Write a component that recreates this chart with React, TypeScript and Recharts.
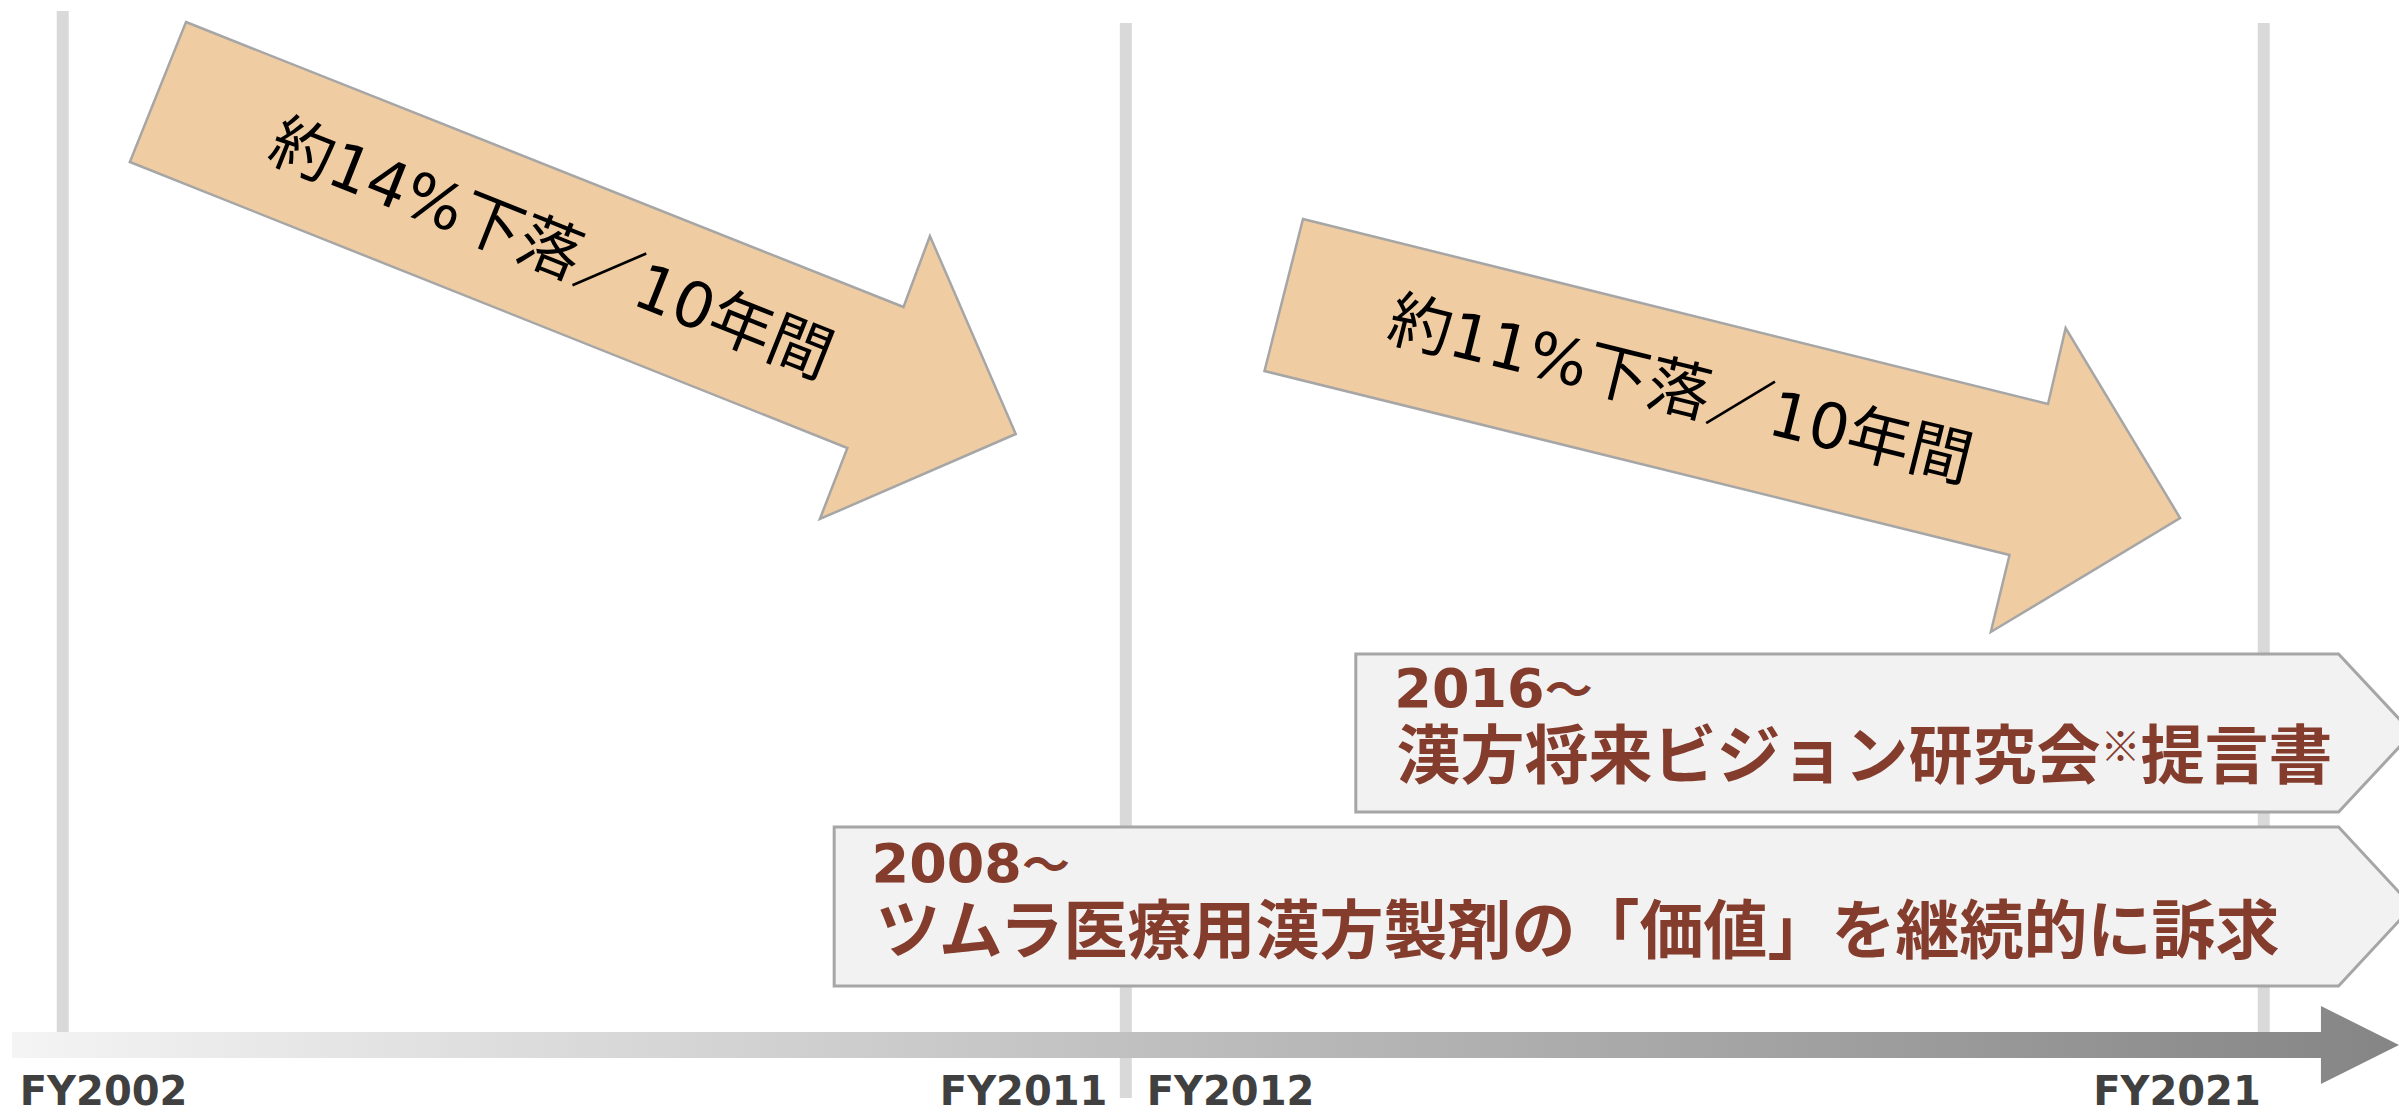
import { ScatterChart, Scatter, XAxis, YAxis } from "recharts"

// x = fiscal year position, y = layout level (0 bottom .. 111 top)

// grey vertical dividers of the timeline
const dividerYears = [2002.0, 2011.66, 2022.0]
const dividerTops = [109.9, 108.7, 108.7]
const dividerBottoms = [6.0, 1.2, 6.0]

// timeline arrow along the bottom
const timelineX = [2001.54, 2022.52, 2022.52, 2023.23, 2022.52, 2022.52, 2001.54]
const timelineY = [7.8, 7.8, 10.4, 6.5, 2.6, 5.2, 5.2]

const fyLabels = ["FY2002", "FY2011", "FY2012", "FY2021"]
const fyLabelX = [2001.61, 2009.97, 2011.85, 2020.45]
const fyLabelY = [0.5, 0.5, 0.5, 0.5]

// orange decline arrows
const declineLabels = ["約14%下落／10年間", "約11%下落／10年間"]
const declineLabelX = [2006.44, 2016.7]
const declineLabelY = [86.1, 72.0]
const decline1X = [2003.12, 2009.64, 2009.88, 2010.66, 2008.88, 2009.13, 2002.61]
const decline1Y = [108.8, 80.3, 87.4, 67.6, 59.1, 66.2, 94.8]
const decline2X = [2013.27, 2020.04, 2020.2, 2021.24, 2019.52, 2019.69, 2012.92]
const decline2Y = [89.1, 70.6, 78.2, 59.2, 47.8, 55.5, 73.9]

// grey banners
const bannerYears = ["2016～", "2008～"]
const bannerTitles = ["漢方将来ビジョン研究会※提言書", "ツムラ医療用漢方製剤の「価値」を継続的に訴求"]
const bannerYearX = [2014.1, 2009.35]
const bannerYearY = [40.3, 22.8]
const bannerTitleX = [2014.12, 2009.39]
const bannerTitleY = [33.2, 15.7]
const banner1X = [2013.75, 2022.68, 2023.35, 2022.68, 2013.75]
const banner1Y = [45.6, 45.6, 37.7, 29.8, 29.8]
const banner2X = [2009.01, 2022.68, 2023.35, 2022.68, 2009.01]
const banner2Y = [28.3, 28.3, 20.35, 12.4, 12.4]

const declineAngles = [21.7, 13.9]

const toPoints = (xs: number[], ys: number[]) => xs.map((x, i) => ({ x, y: ys[i] }))

const hidden = () => <g />

const ptsAttr = (points: any[]) => points.map((p) => `${p.x},${p.y}`).join(" ")

const polygon = (fill: string, stroke: string, strokeWidth: number) => (props: any) => (
  <polygon points={ptsAttr(props.points)} fill={fill} stroke={stroke} strokeWidth={strokeWidth} />
)

const timelineShape = (props: any) => (
  <g>
    <defs>
      <linearGradient id="timelineFill" x1="0" y1="0" x2="1" y2="0">
        <stop offset="0%" stopColor="#f4f4f4" />
        <stop offset="100%" stopColor="#858585" />
      </linearGradient>
    </defs>
    <polygon points={ptsAttr(props.points)} fill="url(#timelineFill)" />
  </g>
)

const fyTick = (props: any) => (
  <text x={props.cx} y={props.cy} fontFamily="'DejaVu Sans'" fontWeight="bold" fontSize={40} fill="#404040">
    {props.payload.label}
  </text>
)

const declineText = (props: any) => (
  <text
    x={props.cx}
    y={props.cy}
    transform={`rotate(${props.payload.angle} ${props.cx} ${props.cy})`}
    textAnchor="middle"
    dominantBaseline="central"
    fontFamily="'DejaVu Sans', 'Noto Sans CJK JP'"
    fontSize={63}
    fill="#000"
  >
    {props.payload.label}
  </text>
)

const bannerYearText = (props: any) => {
  const label = String(props.payload.label)
  return (
    <text x={props.cx} y={props.cy} fontFamily="'DejaVu Sans', 'Noto Sans CJK JP'" fontWeight="bold" fontSize={54} fill="#843c2d">
      {label.replace("～", "")}
      <tspan fontFamily="'Noto Sans CJK JP'" fontSize={48}>～</tspan>
    </text>
  )
}

const bannerTitleText = (props: any) => {
  const parts = String(props.payload.label).split("※")
  return (
    <text x={props.cx} y={props.cy} fontFamily="'Noto Sans CJK JP'" fontWeight="bold" fontSize={64} fill="#843c2d">
      {parts[0]}
      {parts.length > 1 && (
        <>
          <tspan fontSize={40} dy={-17}>※</tspan>
          <tspan dy={17}>{parts[1]}</tspan>
        </>
      )}
    </text>
  )
}

export default function App() {
  const fyData = fyLabels.map((label, i) => ({ x: fyLabelX[i], y: fyLabelY[i], label }))
  const declineData = declineLabels.map((label, i) => ({
    x: declineLabelX[i],
    y: declineLabelY[i],
    label,
    angle: declineAngles[i],
  }))
  const yearData = bannerYears.map((label, i) => ({ x: bannerYearX[i], y: bannerYearY[i], label }))
  const titleData = bannerTitles.map((label, i) => ({ x: bannerTitleX[i], y: bannerTitleY[i], label }))

  return (
    <div
      style={{
        position: "absolute",
        left: 0,
        top: 0,
        width: 2399,
        height: 1110,
        overflow: "hidden",
        background: "#fff",
      }}
    >
      <ScatterChart width={2420} height={1110} margin={{ top: 0, right: 0, bottom: 0, left: 0 }}>
        <XAxis type="number" dataKey="x" domain={[2001.43, 2023.42]} hide />
        <YAxis type="number" dataKey="y" domain={[0, 111]} hide />

        {dividerYears.map((year, i) => (
          <Scatter
            key={year}
            data={toPoints([year, year], [dividerTops[i], dividerBottoms[i]])}
            shape={hidden}
            line={{ stroke: "#d9d9d9", strokeWidth: 12 }}
            lineType="joint"
            isAnimationActive={false}
          />
        ))}

        <Scatter data={toPoints(timelineX, timelineY)} shape={hidden} line={timelineShape} isAnimationActive={false} />

        <Scatter data={toPoints(decline1X, decline1Y)} shape={hidden} line={polygon("#f0cca2", "#a6a6a6", 2.5)} isAnimationActive={false} />
        <Scatter data={toPoints(decline2X, decline2Y)} shape={hidden} line={polygon("#f0cca2", "#a6a6a6", 2.5)} isAnimationActive={false} />
        <Scatter data={declineData} shape={declineText} isAnimationActive={false} />

        <Scatter data={toPoints(banner1X, banner1Y)} shape={hidden} line={polygon("#f2f2f2", "#a6a6a6", 3)} isAnimationActive={false} />
        <Scatter data={toPoints(banner2X, banner2Y)} shape={hidden} line={polygon("#f2f2f2", "#a6a6a6", 3)} isAnimationActive={false} />
        <Scatter data={yearData} shape={bannerYearText} isAnimationActive={false} />
        <Scatter data={titleData} shape={bannerTitleText} isAnimationActive={false} />

        <Scatter data={fyData} shape={fyTick} isAnimationActive={false} />
      </ScatterChart>
    </div>
  )
}
